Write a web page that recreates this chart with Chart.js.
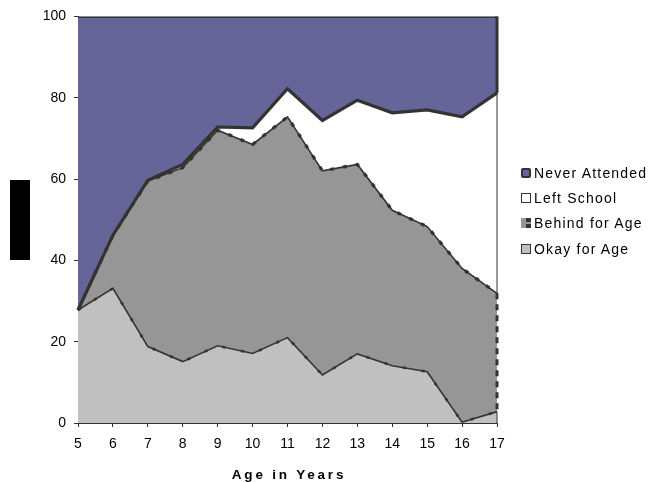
<!DOCTYPE html>
<html lang="en">
<head>
<meta charset="UTF-8">
<title>School status by age</title>
<script src="https://cdn.jsdelivr.net/npm/chart.js"></script>
<style>
  body { margin: 0; background: #fff; font-family: "Liberation Sans", Arial, sans-serif; }
  .wrap { position: relative; width: 652px; height: 482px; }
  canvas { position: absolute; left: 0; top: 0; }
  #redact { position: absolute; left: 10px; top: 180px; width: 20px; height: 80px; background: #000; }
  .xtitle { position: absolute; left: 78px; width: 422px; top: 467px; text-align: center; font-weight: bold; font-size: 13.5px; letter-spacing: 2.8px; color: #000; }
  .legend { position: absolute; left: 521px; top: 160px; font-size: 14px; letter-spacing: 1.2px; color: #000; }
  .legend div { height: 25.4px; display: flex; align-items: center; white-space: nowrap; }
  .legend i { display: inline-block; width: 10px; height: 10px; box-sizing: border-box; margin-right: 3px; }
  .m-never { background: #65659a; border: 2px solid #333; border-radius: 2px; }
  .m-left { background: #fff; border: 1.5px solid #333; }
  .m-behind { background: linear-gradient(90deg, #969696 0 50%, transparent 50%), linear-gradient(#333 0 40%, #969696 40% 60%, #333 60%); }
  .m-okay { background: #c0c0c0; border: 1.5px solid #333; }
</style>
</head>
<body>
<div class="wrap">
  <canvas id="chart" width="652" height="482"></canvas>
  <div id="redact"></div>
  <div class="xtitle">Age in Years</div>
  <div class="legend">
    <div><i class="m-never"></i>Never Attended</div>
    <div><i class="m-left"></i>Left School</div>
    <div><i class="m-behind"></i>Behind for Age</div>
    <div><i class="m-okay"></i>Okay for Age</div>
  </div>
</div>

<script>
const ages = ['5', '6', '7', '8', '9', '10', '11', '12', '13', '14', '15', '16', '17'];
// percent of children in each group, stacked bottom to top
const okay       = [27.8, 33.1, 18.8, 15.1, 19.0, 17.1, 21.0, 11.8, 17.0, 14.1, 12.6, 0.2, 2.8];
const behind     = [0, 13.1, 40.7, 47.7, 53.0, 51.4, 54.3, 50.2, 46.6, 38.2, 35.7, 37.8, 29.1];
const leftSchool = [0, 0, 0.2, 0.8, 0.8, 4.1, 6.9, 12.4, 15.8, 24.0, 28.7, 37.3, 49.3];
const never      = [72.2, 53.8, 40.3, 36.4, 27.2, 27.4, 17.8, 25.6, 20.6, 23.7, 23.0, 24.7, 18.8];
const yTicks = [0, 20, 40, 60, 80, 100];

const ink = '#333333';

function strokePts(ctx, pts, dash, width) {
  ctx.save();
  ctx.setLineDash(dash);
  ctx.lineWidth = width;
  ctx.strokeStyle = ink;
  ctx.beginPath();
  pts.forEach((p, i) => i ? ctx.lineTo(p.x, p.y) : ctx.moveTo(p.x, p.y));
  ctx.stroke();
  ctx.restore();
}

// dashed overlays + the area borders along the right edge
const edges = {
  id: 'edges',
  afterDatasetsDraw(chart) {
    const ctx = chart.ctx;
    const xs = chart.scales.x, ys = chart.scales.y;
    strokePts(ctx, chart.getDatasetMeta(1).data, [4, 9], 3.2);
    strokePts(ctx, chart.getDatasetMeta(0).data, [3, 16], 2.6);

    const last = ages.length - 1;
    const px = xs.getPixelForValue(last);
    const okTop = okay[last];
    const bhTop = okTop + behind[last];
    const lfTop = bhTop + leftSchool[last];
    const seg = (a, b, w, dash) => strokePts(ctx,
      [{x: px, y: ys.getPixelForValue(a)}, {x: px, y: ys.getPixelForValue(b)}], dash, w);
    seg(100, lfTop, 3, []);
    seg(lfTop, bhTop, 1, []);
    seg(bhTop, okTop, 3, [6, 5]);
    seg(okTop, 0, 1, []);
  }
};

const base = { pointRadius: 0, tension: 0, borderColor: ink, borderJoinStyle: 'miter' };

new Chart(document.getElementById('chart'), {
  type: 'line',
  data: {
    labels: ages,
    datasets: [
      { ...base, label: 'Okay for Age', data: okay, backgroundColor: '#c0c0c0', fill: 'origin', borderWidth: 1.6 },
      { ...base, label: 'Behind for Age', data: behind, backgroundColor: '#969696', fill: '-1', borderWidth: 1.6 },
      { ...base, label: 'Left School', data: leftSchool, backgroundColor: '#ffffff', fill: '-1', borderWidth: 3.2 },
      { ...base, label: 'Never Attended', data: never, backgroundColor: '#65659a', fill: '-1', borderWidth: 3.2 }
    ]
  },
  options: {
    responsive: false,
    animation: false,
    devicePixelRatio: 1,
    layout: { padding: { top: 16, right: 155, left: 0, bottom: 0 } },
    plugins: {
      legend: { display: false },
      tooltip: { enabled: false },
      filler: { drawTime: 'beforeDatasetsDraw' }
    },
    scales: {
      x: {
        offset: false,
        grid: { drawOnChartArea: false, tickLength: 4, color: ink, offset: false },
        border: { color: ink, width: 1 },
        ticks: { color: '#000', font: { family: 'Liberation Sans', size: 14 }, padding: 9, maxRotation: 0, autoSkip: false },
        afterFit(s) { s.height = 59; }
      },
      y: {
        stacked: true,
        min: 0,
        max: 100,
        afterBuildTicks(s) { s.ticks = yTicks.map(v => ({ value: v })); },
        grid: { drawOnChartArea: false, tickLength: 4, color: ink },
        border: { color: ink, width: 1 },
        ticks: { color: '#000', font: { family: 'Liberation Sans', size: 14 }, padding: 8 },
        afterFit(s) { s.width = 78; }
      }
    }
  },
  plugins: [edges]
});
</script>
</body>
</html>
